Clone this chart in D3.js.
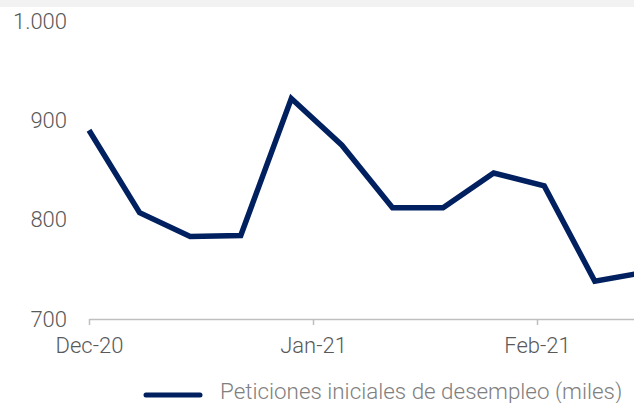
<!DOCTYPE html>
<html>
<head>
<meta charset="utf-8">
<script src="https://cdn.jsdelivr.net/npm/d3@7"></script>
<style>
  body { margin: 0; background: #fff; }
  svg { display: block; font-family: Roboto, "Liberation Sans", sans-serif; }
</style>
</head>
<body>
<svg id="chart" width="634" height="403"></svg>
<script>
// weekly initial jobless claims (thousands)
const weeks = ["2020-12-01", "2020-12-08", "2020-12-15", "2020-12-22", "2020-12-29",
    "2021-01-05", "2021-01-12", "2021-01-19", "2021-01-26", "2021-02-02",
    "2021-02-09", "2021-02-16"];
const claims = [890, 807, 783, 784, 922, 875, 812, 812, 847, 834, 738, 747];
const monthTicks = ["2020-12-01", "2021-01-01", "2021-02-01"];
const yTicks = [700, 800, 900, 1000];
const seriesName = "Peticiones iniciales de desempleo (miles)";

const parse = d3.utcParse("%Y-%m-%d");
const data = weeks.map((w, i) => ({ time: parse(w), value: claims[i] }));

const svg = d3.select("#chart"),
    width = +svg.attr("width");

// light band along the top
svg.append("rect").attr("x", 0).attr("y", 0).attr("width", width).attr("height", 7).attr("fill", "#f1f2f1");

const plotLeft = 89, plotRight = width, plotTop = 21, plotBottom = 319;

// month spacing fixed by Dec 1 -> Feb 1, axis runs on to the right edge
const x0 = d3.scaleUtc().domain([parse(monthTicks[0]), parse(monthTicks[2])]).range([plotLeft, 537]);
const x = d3.scaleUtc().domain([parse(monthTicks[0]), x0.invert(plotRight)]).range([plotLeft, plotRight]);
const y = d3.scaleLinear().domain([700, 1000]).range([plotBottom, plotTop]);

const es = d3.formatLocale({ decimal: ",", thousands: ".", grouping: [3], currency: ["", "€"] });

// y labels
svg.append("g")
    .selectAll("text")
    .data(yTicks)
    .join("text")
    .attr("x", 67)
    .attr("y", d => y(d))
    .attr("dy", "0.35em")
    .attr("text-anchor", "end")
    .attr("fill", "#595959")
    .attr("font-size", 22)
    .attr("font-weight", 300)
    .text(d => es.format(",")(d));

// x axis
const xAxis = svg.append("g")
    .attr("transform", `translate(0,${plotBottom})`)
    .call(d3.axisBottom(x)
        .tickValues(monthTicks.map(parse))
        .tickFormat(d3.utcFormat("%b-%y"))
        .tickSize(6)
        .tickSizeOuter(0)
        .tickPadding(12));
xAxis.attr("font-family", null);
xAxis.select(".domain").attr("stroke", "#bfbfbf").attr("stroke-width", 1.5);
xAxis.selectAll(".tick line").attr("stroke", "#bfbfbf").attr("stroke-width", 1.5);
xAxis.selectAll(".tick text").attr("fill", "#595959").attr("font-size", 22).attr("font-weight", 300);

const line = d3.line()
    .x(d => x(d.time))
    .y(d => y(d.value));

svg.append("path")
    .datum(data)
    .attr("d", line)
    .attr("fill", "none")
    .attr("stroke", "#002060")
    .attr("stroke-width", 5.5);

// legend
const lg = svg.append("g").attr("transform", "translate(146,395)");
lg.append("line")
    .attr("x1", 0).attr("x2", 54)
    .attr("y1", 0).attr("y2", 0)
    .attr("stroke", "#002060")
    .attr("stroke-width", 5)
    .attr("stroke-linecap", "round");
lg.append("text")
    .attr("x", 74)
    .attr("y", -3)
    .attr("dy", "0.3em")
    .attr("fill", "#808080")
    .attr("font-size", 22.4)
    .attr("font-weight", 300)
    .text(seriesName);
</script>
</body>
</html>
